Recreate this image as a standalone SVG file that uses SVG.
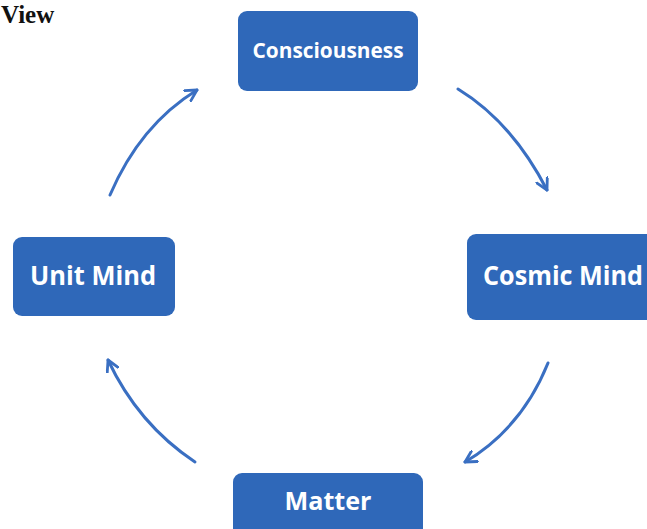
<svg xmlns="http://www.w3.org/2000/svg" width="647" height="529" viewBox="0 0 647 529">
<defs>
<style>
.box{fill:#2F68B9;}
.lbl{font-family:"Open Sans","Liberation Sans",sans-serif;font-weight:bold;fill:#FFFFFF;text-anchor:middle;}
.arc{fill:none;stroke:#3A6FC2;stroke-width:3;stroke-linecap:round;}
</style>
<marker id="ah" viewBox="0 0 14 14" refX="12" refY="7" markerWidth="14" markerHeight="14" markerUnits="userSpaceOnUse" orient="auto">
<path d="M1,1 L12,7 L1,13" fill="none" stroke="#3A6FC2" stroke-width="2.8" stroke-linecap="round" stroke-linejoin="round"/>
</marker>
</defs>
<rect width="647" height="529" fill="#FFFFFF"/>
<text x="1" y="23" font-family="Liberation Serif,serif" font-weight="bold" font-size="25" fill="#111111">View</text>
<g id="connectors">
<path class="arc" d="M458,89 Q512,122 547,190" marker-end="url(#ah)"/>
<path class="arc" d="M548,363 Q522,428 465,462" marker-end="url(#ah)"/>
<path class="arc" d="M195,462 Q138,424 108,360" marker-end="url(#ah)"/>
<path class="arc" d="M110,195 Q140,125 197,90" marker-end="url(#ah)"/>
</g>
<g id="consciousness">
<rect class="box" x="238" y="11" width="180" height="80" rx="9"/>
<text class="lbl" x="328" y="58" font-size="21" textLength="151" lengthAdjust="spacingAndGlyphs">Consciousness</text>
</g>
<g id="cosmic-mind">
<rect class="box" x="467" y="234" width="200" height="86" rx="9"/>
<text class="lbl" x="563" y="285" font-size="27" textLength="160" lengthAdjust="spacingAndGlyphs">Cosmic Mind</text>
</g>
<g id="unit-mind">
<rect class="box" x="13" y="237" width="162" height="79" rx="9"/>
<text class="lbl" x="93" y="285" font-size="27" textLength="126" lengthAdjust="spacingAndGlyphs">Unit Mind</text>
</g>
<g id="matter">
<rect class="box" x="233" y="473" width="190" height="70" rx="9"/>
<text class="lbl" x="328" y="510" font-size="25" textLength="87" lengthAdjust="spacingAndGlyphs">Matter</text>
</g>
</svg>
